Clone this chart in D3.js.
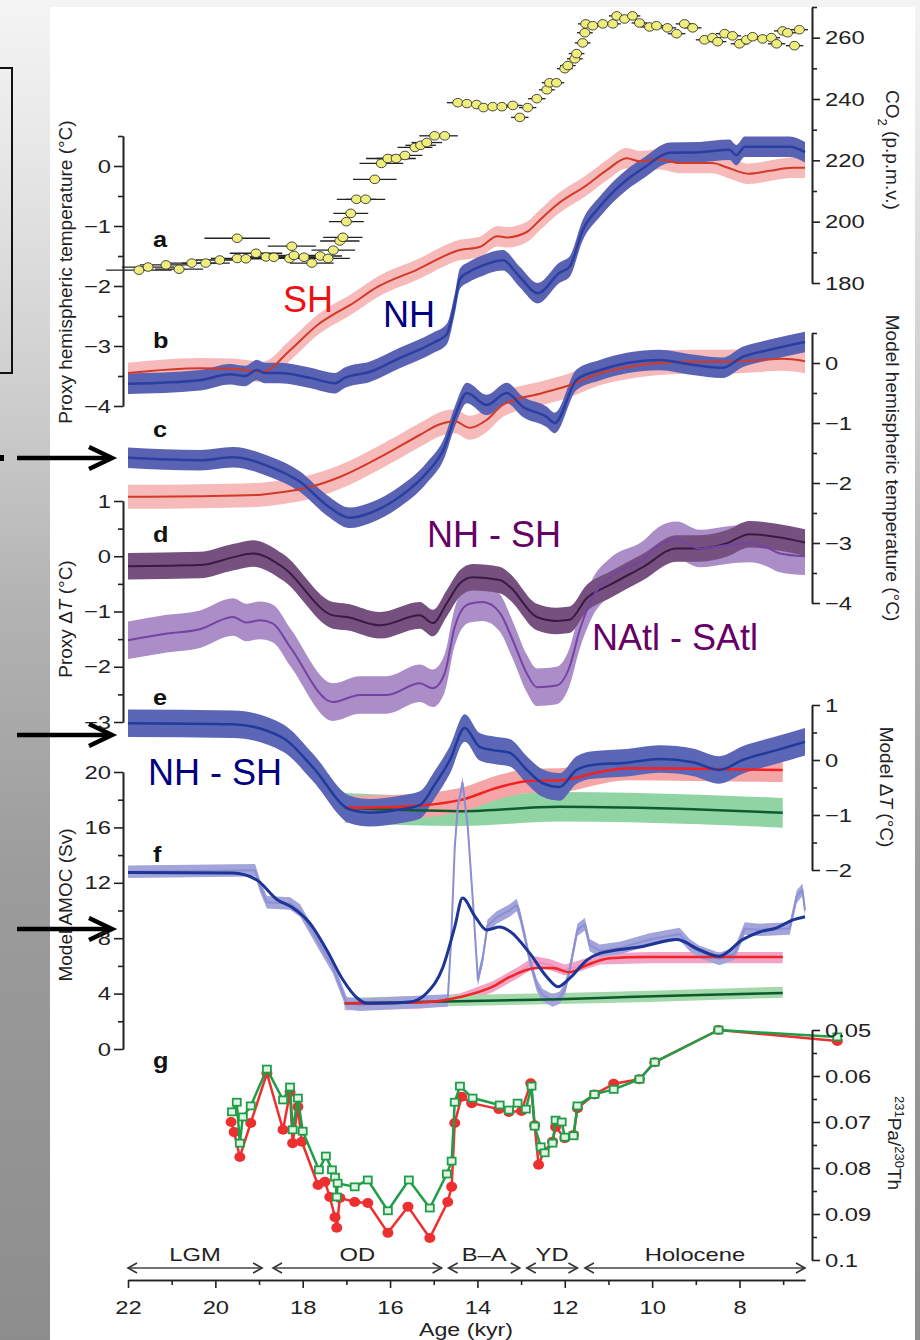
<!DOCTYPE html>
<html>
<head>
<meta charset="utf-8">
<script src="https://cdn.jsdelivr.net/npm/d3@7"></script>
<style>
  body { margin: 0; background: #fff; }
  svg text { font-family: "Liberation Sans", Arial, Helvetica, sans-serif; }
</style>
</head>
<body>
<div id="chart"></div>
<script>
// ---- data (age in kyr BP) ----

// a: CO2 [age, ppmv, age error]
var co2Data = [[21.75,184.2,0.75],[21.54,185.2,0.6],[21.13,185.9,0.6],[20.83,184.5,0.55],[20.54,186.5,0.55],[20.22,186.5,0.55],[19.9,187.5,0.55],[19.5,194.6,0.75],[19.5,188,0.6],[19.3,187.9,0.6],[19.07,189.7,0.6],[18.84,188.5,0.6],[18.66,188.4,0.6],[18.3,188,0.55],[18.25,192,0.55],[18.2,189,0.55],[17.97,188.4,0.5],[17.79,186.5,0.5],[17.6,188.8,0.5],[17.42,188,0.5],[17.3,190.7,0.5],[17.15,193.7,0.45],[17.08,194.9,0.45],[17.0,200,0.4],[16.9,202.7,0.4],[16.77,207.3,0.45],[16.56,207.3,0.45],[16.35,213.8,0.5],[16.2,219,0.5],[16.05,220.6,0.5],[15.86,220.6,0.45],[15.66,221.6,0.4],[15.43,224.2,0.4],[15.3,224.9,0.35],[15.16,225.8,0.35],[14.98,228,0.35],[14.75,228,0.3],[14.45,238.8,0.25],
  [14.24,238.5,0.22],[14.02,238.2,0.22],[13.86,237.2,0.22],[13.65,237.5,0.22],[13.44,237.5,0.22],[13.19,237.9,0.22],[13.03,234,0.2],[12.85,237.2,0.2],[12.64,240.1,0.2],[12.41,243,0.18],[12.35,245.3,0.18],[12.19,245.3,0.18],[12.0,249.9,0.18],[11.93,250.9,0.18],[11.77,253.1,0.18],[11.73,254.8,0.18],[11.59,258.3,0.18],[11.54,261.6,0.18],[11.52,264.5,0.18],[11.36,263.9,0.18],[11.13,264.5,0.18],[10.9,264.5,0.18],[10.81,267.1,0.18],[10.63,266.1,0.18],[10.45,267.1,0.18],[10.29,264.8,0.18],[10.06,263.5,0.2],[9.9,263.9,0.2],[9.65,263.2,0.2],[9.44,261.3,0.2],[9.26,264.5,0.2],[9.07,263.2,0.2],[8.8,259.3,0.2],[8.62,260,0.2],[8.5,258.7,0.2],[8.34,261.3,0.2],[8.16,260.6,0.2],[8.0,258,0.2],[7.84,259.3,0.2],[7.7,260.3,0.2],[7.47,259.6,0.2],[7.27,260,0.2],[7.15,258,0.2],[7.01,262.2,0.2],[6.9,261.6,0.2],[6.74,257.4,0.2],[6.63,262.6,0.2]];

// b: proxy hemispheric temperature (degC)
var bSH = [[22,-3.45],[20.35,-3.37],[19.6,-3.38],[18.91,-3.43],[18.29,-3.07],[17.61,-2.62],[17.31,-2.48],[16.92,-2.32],[16.3,-2.02],[15.39,-1.73],[14.4,-1.4],[13.95,-1.35],[13.54,-1.17],[13.33,-1.19],[12.87,-1.1],[12.57,-0.9],[12.19,-0.65],[11.5,-0.32],[11.04,-0.07],[10.58,0.13],[10.29,0.08],[9.83,0.11],[9.37,0.05],[8.62,0.05],[8.3,-0.02],[7.77,-0.13],[7.31,-0.08],[6.79,-0.03],[6.5,-0.03]];
var bNH = [[22,-3.63],[20.35,-3.57],[19.67,-3.47],[19.32,-3.5],[19.05,-3.4],[18.87,-3.45],[18.52,-3.45],[17.84,-3.53],[17.26,-3.62],[17.04,-3.53],[16.46,-3.43],[15.78,-3.2],[15.02,-2.95],[14.7,-2.8],[14.52,-2.3],[14.4,-1.88],[14.18,-1.76],[13.95,-1.68],[13.42,-1.57],[13.03,-1.85],[12.62,-2.12],[12.12,-1.78],[11.89,-1.68],[11.59,-1.07],[11.2,-0.68],[10.58,-0.23],[10.17,-0.02],[9.6,0.22],[8.91,0.23],[8.23,0.27],[8.07,0.18],[7.88,0.32],[6.85,0.32],[6.5,0.23]];
var bSHerr = 0.17, bNHerr = 0.17;

// c: model hemispheric temperature (degC)
var cSH = [[22,-2.23],[20.35,-2.22],[19.05,-2.2],[18.45,-2.15],[17.9,-2.08],[17.15,-1.9],[16.23,-1.57],[15.32,-1.2],[14.86,-1.02],[14.52,-0.97],[14.18,-1.08],[13.79,-0.95],[13.42,-0.7],[12.51,-0.5],[11.89,-0.37],[11.2,-0.17],[10.58,-0.07],[9.83,0],[9.07,0.02],[8.3,0.02],[7.54,0.05],[7.01,0.07],[6.5,0.03]];
var cNH = [[22,-1.58],[20.35,-1.62],[19.6,-1.57],[18.75,-1.73],[18.06,-1.98],[17.45,-2.37],[16.92,-2.58],[16.46,-2.5],[15.78,-2.23],[15.16,-1.83],[14.75,-1.4],[14.52,-0.9],[14.24,-0.5],[13.79,-0.7],[13.33,-0.5],[12.96,-0.73],[12.41,-0.9],[12.23,-1.0],[11.73,-0.28],[11.2,-0.12],[10.58,0],[9.83,0.05],[9.07,-0.03],[8.39,-0.08],[7.93,0.1],[7.31,0.22],[6.5,0.35]];
var cSHerr = 0.2, cNHerr = 0.17;

// d: proxy NH-SH and NAtl-SAtl (degC)
var dNHSH = [[22,-0.18],[20.35,-0.16],[19.6,-0.02],[19.14,0.05],[18.45,-0.2],[17.31,-1.07],[16.99,-1.1],[16.23,-1.25],[15.32,-1.07],[15.02,-1.21],[14.7,-0.85],[14.4,-0.49],[14.11,-0.38],[13.49,-0.43],[13.26,-0.55],[12.64,-1.1],[12.19,-1.17],[11.89,-1.15],[11.5,-0.76],[10.97,-0.52],[10.22,-0.2],[9.44,0.14],[8.91,0.14],[8.3,0.23],[7.77,0.4],[7.15,0.35],[6.5,0.25]];
var dAtl = [[22,-1.52],[21.11,-1.4],[20.35,-1.32],[19.6,-1.1],[19.28,-1.2],[18.98,-1.16],[18.68,-1.22],[18.29,-1.64],[17.31,-2.64],[16.69,-2.51],[16.07,-2.51],[15.32,-2.3],[15.02,-2.39],[14.75,-2.12],[14.52,-1.28],[14.4,-1.03],[14.18,-0.86],[13.88,-0.83],[13.49,-1.02],[13.19,-1.52],[12.87,-2.12],[12.64,-2.37],[12.19,-2.34],[11.89,-2.0],[11.66,-1.34],[11.36,-0.74],[10.97,-0.38],[10.22,-0.07],[9.83,0.2],[9.44,0.29],[8.91,0.14],[8.3,0.2],[7.77,0.23],[7.38,0.16],[7.08,0.05],[6.5,0]];
var dNHSHerr = 0.24, dAtlErr = 0.34;

// e: model NH-SH (degC), two partial runs
var eNHSH = [[22,0.67],[19.6,0.65],[18.45,0.4],[17.77,-0.13],[16.92,-0.9],[16.46,-0.96],[15.78,-0.9],[15.32,-0.82],[14.98,-0.45],[14.63,0.0],[14.29,0.58],[13.95,0.24],[13.65,0.18],[13.26,0.13],[12.87,-0.18],[12.51,-0.42],[12.12,-0.49],[11.73,-0.18],[11.36,-0.09],[10.58,-0.05],[9.83,0.02],[9.07,-0.04],[8.46,-0.18],[7.93,0],[7.15,0.18],[6.5,0.33]];
var eRed = [[17.04,-0.87],[15.78,-0.85],[14.4,-0.73],[13.49,-0.49],[12.8,-0.38],[12.12,-0.37],[11.2,-0.22],[10.58,-0.15],[9.07,-0.16],[7.01,-0.18]];
var eGreen = [[17.04,-0.87],[14.4,-0.93],[12.12,-0.85],[8.91,-0.9],[7.01,-0.96]];
var eNHSHerr = 0.25, eRedErr = 0.22, eGreenErr = 0.27;

// f: model AMOC (Sv), raw and smoothed
var fBlueRaw = [[22,12.8],[19.09,12.9],[18.98,11.8],[18.82,10.6],[18.29,10.5],[18.06,10.0],[17.68,7.9],[17.31,5.9],[16.99,3.3],[16.69,3.2],[14.68,3.5],[14.6,8.0],[14.52,14.5],[14.45,17.5],[14.34,19.2],[14.22,16.0],[14.1,10.5],[13.99,5.0],[13.88,6.5],[13.77,8.9],[13.56,9.5],[13.26,10.0],[13.1,10.4],[13.03,9.7],[12.92,8.2],[12.8,6.4],[12.64,4.6],[12.51,3.9],[12.28,3.5],[12.12,3.7],[12.0,4.3],[11.89,5.7],[11.71,8.6],[11.54,9.0],[11.43,7.5],[11.2,7.1],[10.74,7.3],[10.06,7.9],[9.37,8.3],[9.14,7.5],[8.91,7.0],[8.46,6.5],[8.11,6.9],[7.88,8.7],[7.54,8.6],[6.85,8.7],[6.69,11.0],[6.56,11.5],[6.5,10.0]];
var fBlueSmooth = [[22,12.75],[19.6,12.7],[19.05,12.2],[18.59,10.8],[18.23,10.2],[17.84,9.1],[17.45,7.15],[17.08,5.0],[16.76,3.7],[16.53,3.3],[16.23,3.3],[15.55,3.4],[15.16,4.05],[14.79,5.9],[14.52,8.8],[14.34,10.9],[14.06,9.6],[13.79,8.6],[13.49,8.8],[13.26,8.5],[12.8,6.9],[12.41,5.2],[12.16,4.5],[11.89,5.1],[11.5,6.4],[11.2,6.9],[10.22,7.4],[9.44,7.9],[8.91,7.15],[8.46,6.7],[7.93,7.9],[7.54,8.45],[7.15,8.75],[6.79,9.3],[6.5,9.55]];
var fRedRaw = [[17.04,3.2],[15.32,3.3],[14.4,3.6],[13.65,4.5],[13.03,5.6],[12.69,6.3],[12.35,6.1],[12.0,5.7],[11.66,6.0],[11.2,6.5],[10.06,6.6],[7.01,6.6]];
var fRedSmooth = [[17.04,3.3],[15.32,3.35],[14.4,3.75],[13.65,4.5],[13.26,5.2],[12.64,5.85],[12.28,5.85],[11.89,5.55],[11.5,6.05],[10.97,6.55],[10.22,6.65],[7.01,6.65]];
var fGreenRaw = [[17.04,3.3],[14.4,3.5],[12.12,3.65],[10.06,3.8],[7.01,4.1]];
var fGreenSmooth = [[17.04,3.3],[14.4,3.45],[12.12,3.6],[10.58,3.75],[8.91,3.9],[7.01,4.05]];
var blueNoise = 0.45, redNoise = 0.4, greenNoise = 0.4;

// g: 231Pa/230Th
var gRed = [[19.64,0.070],[19.57,0.0722],[19.44,0.0776],[19.19,0.0702],[18.82,0.0594],[18.45,0.0717],[18.29,0.0635],[18.23,0.0746],[18.11,0.0667],[18.02,0.0743],[17.65,0.0837],[17.49,0.083],[17.38,0.0863],[17.26,0.0907],[17.22,0.093],[17.15,0.0865],[16.81,0.0874],[16.51,0.0876],[16.05,0.0941],[15.59,0.0884],[15.09,0.0952],[14.68,0.0874],[14.59,0.0841],[14.52,0.0702],[14.36,0.0645],[14.13,0.0659],[13.51,0.0672],[13.28,0.0678],[12.99,0.0676],[12.78,0.0616],[12.69,0.0707],[12.6,0.0793],[12.48,0.0765],[12.28,0.0743],[12.21,0.0711],[12.0,0.0735],[11.8,0.0728],[11.71,0.067],[11.32,0.064],[10.88,0.0617],[10.29,0.0607],[9.94,0.057],[8.48,0.050],[5.76,0.0524]];
var gGreen = [[19.62,0.0678],[19.51,0.0657],[19.44,0.0746],[19.37,0.0689],[19.19,0.0665],[18.82,0.0585],[18.45,0.0652],[18.29,0.0624],[18.23,0.0717],[18.11,0.0648],[18.0,0.072],[17.63,0.0804],[17.47,0.0774],[17.33,0.0804],[17.26,0.082],[17.22,0.0863],[17.2,0.0833],[16.81,0.0841],[16.51,0.0826],[16.05,0.0893],[15.57,0.0826],[15.09,0.0887],[14.7,0.0813],[14.59,0.0785],[14.52,0.0657],[14.4,0.0622],[14.11,0.0648],[13.49,0.0663],[13.28,0.0674],[13.08,0.0659],[12.89,0.0672],[12.76,0.0622],[12.69,0.0709],[12.55,0.0754],[12.46,0.0767],[12.28,0.0746],[12.21,0.0696],[12.07,0.07],[12.0,0.0733],[11.8,0.073],[11.71,0.0665],[11.32,0.064],[10.88,0.0629],[10.29,0.0607],[9.94,0.057],[8.48,0.050],[5.76,0.0515]];

// periods [label, from, to]
var periods = [["LGM",22,18.93],["OD",18.68,14.82],["B\u2013A",14.66,13.03],["YD",12.87,11.71],["Holocene",11.54,6.5]];

// tick values
var ageMajor = [22,20,18,16,14,12,10,8], ageMinor = [21,19,17,15,13,11,9,7];
var co2Major = [180,200,220,240,260], co2Minor = [190,210,230,250,270];
var tMajor = [-4,-3,-2,-1,0], tMinor = [-3.5,-2.5,-1.5,-0.5,0.5];
var pdMajor = [-3,-2,-1,0,1], pdMinor = [-2.5,-1.5,-0.5,0.5];
var mdMajor = [-2,-1,0,1], mdMinor = [-1.5,-0.5,0.5];
var amMajor = [0,4,8,12,16,20], amMinor = [2,6,10,14,18];
var paMajor = [0.05,0.06,0.07,0.08,0.09,0.1], paMinor = [0.055,0.065,0.075,0.085,0.095];

// ---- drawing ----
var W = 920, H = 1340;
var svg = d3.select("#chart").append("svg").attr("width", W).attr("height", H);

// slide background
var grad = svg.append("defs").append("linearGradient").attr("id", "bg")
  .attr("x1", 0).attr("y1", 0).attr("x2", 0).attr("y2", 1);
[[0,"#f4f4f4"],[0.1,"#e9e9e9"],[0.3,"#cdcdcd"],[0.45,"#b3b3b3"],[0.65,"#9c9c9c"],[1,"#8d8d8d"]]
  .forEach(function(s) { grad.append("stop").attr("offset", s[0]).attr("stop-color", s[1]); });
svg.append("rect").attr("width", W).attr("height", H).attr("fill", "url(#bg)");
svg.append("rect").attr("x", 50).attr("y", 7).attr("width", 865).attr("height", H - 7).attr("fill", "#fff");

// left slide remnants: box, dot, arrows
svg.append("rect").attr("x", -6).attr("y", 68).attr("width", 18).attr("height", 305)
  .attr("fill", "none").attr("stroke", "#111").attr("stroke-width", 2);
svg.append("rect").attr("x", 0).attr("y", 455).attr("width", 4).attr("height", 6).attr("fill", "#000");
[458, 735, 929].forEach(function(yy) {
  svg.append("path").attr("d", "M17," + yy + "H110").attr("stroke", "#000").attr("stroke-width", 4.5);
  svg.append("path").attr("d", "M89," + (yy - 11) + "L112," + yy + "L89," + (yy + 11))
    .attr("stroke", "#000").attr("stroke-width", 4.5).attr("fill", "none");
});

var x = d3.scaleLinear().domain([22, 6.5]).range([128, 805]);
var yCO2 = d3.scaleLinear().domain([180, 270]).range([283, 7]);
var yPT = d3.scaleLinear().domain([-4, 0.5]).range([406, 136]);
var yMH = d3.scaleLinear().domain([-4, 0.5]).range([603, 333]);
var yPD = d3.scaleLinear().domain([-3, 1]).range([722, 501]);
var yMD = d3.scaleLinear().domain([-2, 1]).range([870, 705]);
var yAM = d3.scaleLinear().domain([0, 20]).range([1049, 772]);
var yPa = d3.scaleLinear().domain([0.05, 0.1]).range([1030, 1260]);

var plot = svg.append("g");

function band(data, yS, half, fill, curve) {
  plot.append("path").datum(data)
    .attr("d", d3.area().x(d => x(d[0])).y0(d => yS(d[1] - half)).y1(d => yS(d[1] + half))
      .curve(curve || d3.curveMonotoneX))
    .attr("fill", fill);
}
function line(data, yS, stroke, w, curve) {
  plot.append("path").datum(data)
    .attr("d", d3.line().x(d => x(d[0])).y(d => yS(d[1])).curve(curve || d3.curveMonotoneX))
    .attr("fill", "none").attr("stroke", stroke).attr("stroke-width", w)
    .attr("stroke-linejoin", "round");
}

// a: CO2 with age error bars
plot.selectAll("line.err").data(co2Data).enter().append("line")
  .attr("x1", d => x(d[0] + d[2])).attr("x2", d => x(d[0] - d[2]))
  .attr("y1", d => yCO2(d[1])).attr("y2", d => yCO2(d[1]))
  .attr("stroke", "#222").attr("stroke-width", 1.3);
plot.selectAll("ellipse.co2").data(co2Data).enter().append("ellipse")
  .attr("cx", d => x(d[0])).attr("cy", d => yCO2(d[1]))
  .attr("rx", 5).attr("ry", 4.3)
  .attr("fill", "#efed7c").attr("stroke", "#333").attr("stroke-width", 0.9);

// b
band(bSH, yPT, bSHerr, "#f6baba");
band(bNH, yPT, bNHerr, "#5a62b4");
line(bSH, yPT, "#d23a26", 2);
line(bNH, yPT, "#2a3f9f", 2.5);

// c
band(cSH, yMH, cSHerr, "#f6baba");
band(cNH, yMH, cNHerr, "#5a62b4");
line(cSH, yMH, "#d23a26", 2);
line(cNH, yMH, "#2a3f9f", 2.5);

// d
band(dAtl, yPD, dAtlErr, "#ab8dc7");
band(dNHSH, yPD, dNHSHerr, "#765180");
line(dNHSH, yPD, "#3a1a42", 2);
line(dAtl, yPD, "#7443a4", 2);

// e
band(eGreen, yMD, eGreenErr, "#91d4a4");
band(eRed, yMD, eRedErr, "#f5a5a5");
band(eNHSH, yMD, eNHSHerr, "#5b66b7");
line(eGreen, yMD, "#0d5c30", 2.5);
line(eRed, yMD, "#f52020", 2.5);
line(eNHSH, yMD, "#1f3c9c", 2.5);

// f
band(fRedRaw, yAM, redNoise, "#f3a3c6", d3.curveLinear);
line(fRedRaw, yAM, "#f08cb8", 1.5, d3.curveLinear);
band(fGreenRaw, yAM, greenNoise, "#a3d9ab", d3.curveLinear);
line(fGreenRaw, yAM, "#8fd09a", 1.5, d3.curveLinear);
band(fBlueRaw, yAM, blueNoise, "#a3a4da", d3.curveLinear);
line(fBlueRaw, yAM, "#8c8fd3", 2, d3.curveLinear);
line(fGreenSmooth, yAM, "#0c5a2c", 2.5);
line(fRedSmooth, yAM, "#f02525", 2.5);
line(fBlueSmooth, yAM, "#1c3596", 3);

// g
line(gRed, yPa, "#ee2f2f", 2.5, d3.curveLinear);
plot.selectAll("ellipse.pr").data(gRed).enter().append("ellipse")
  .attr("cx", d => x(d[0])).attr("cy", d => yPa(d[1]))
  .attr("rx", 5.5).attr("ry", 5).attr("fill", "#ee2f2f");
line(gGreen, yPa, "#1f9e48", 2.5, d3.curveLinear);
plot.selectAll("rect.pg").data(gGreen).enter().append("rect")
  .attr("x", d => x(d[0]) - 4).attr("y", d => yPa(d[1]) - 3.5)
  .attr("width", 8).attr("height", 7)
  .attr("fill", "#e2f4e5").attr("stroke", "#1f9e48").attr("stroke-width", 1.8);

// ---- axes ----
function styleAxis(g) {
  g.select(".domain").attr("stroke", "#222").attr("stroke-width", 1.6);
  g.selectAll(".tick line").attr("stroke", "#222").attr("stroke-width", 1.6);
  g.selectAll(".tick text")
    .attr("font-size", 19).attr("fill", "#222")
    .attr("font-family", "'Liberation Sans', Arial, Helvetica, sans-serif")
    .each(function() {
      var t = d3.select(this);
      var xv = +t.attr("x") || 0;
      t.attr("x", xv / 1.25).attr("transform", "scale(1.25,1)");
    });
}
function vAxis(side, xpos, yS, major, minor) {
  var mk = side === "left" ? d3.axisLeft : d3.axisRight;
  var g1 = svg.append("g").attr("transform", "translate(" + xpos + ",0)")
    .call(mk(yS).tickValues(minor).tickSize(5).tickFormat("").tickSizeOuter(0));
  styleAxis(g1);
  var g2 = svg.append("g").attr("transform", "translate(" + xpos + ",0)")
    .call(mk(yS).tickValues(major).tickSize(side === "left" ? 9 : 8)
      .tickPadding(side === "left" ? 3 : 5).tickSizeOuter(0).tickFormat(d3.format("")));
  styleAxis(g2);
}
vAxis("right", 812, yCO2, co2Major, co2Minor);
vAxis("left", 123, yPT, tMajor, tMinor);
vAxis("right", 812, yMH, tMajor, tMinor);
vAxis("left", 123, yPD, pdMajor, pdMinor);
vAxis("right", 812, yMD, mdMajor, mdMinor);
vAxis("left", 123, yAM, amMajor, amMinor);
vAxis("right", 812, yPa, paMajor, paMinor);

var gx1 = svg.append("g").attr("transform", "translate(0,1280)")
  .call(d3.axisBottom(x).tickValues(ageMinor).tickSize(5).tickFormat("").tickSizeOuter(0));
styleAxis(gx1);
var gx2 = svg.append("g").attr("transform", "translate(0,1280)")
  .call(d3.axisBottom(x).tickValues(ageMajor).tickSize(8).tickPadding(13).tickSizeOuter(0).tickFormat(d3.format("")));
styleAxis(gx2);

svg.append("text").attr("x", 466).attr("y", 1336).attr("text-anchor", "middle")
  .attr("font-size", 19).attr("fill", "#222")
  .attr("transform", "translate(466,0) scale(1.22,1) translate(-466,0)")
  .text("Age (kyr)");

// period arrows
var per = svg.append("g");
periods.forEach(function(p) {
  var x0 = x(p[1]), x1 = x(p[2]), yy = 1268;
  per.append("path").attr("d", "M" + x0 + "," + yy + "H" + x1)
    .attr("stroke", "#444").attr("stroke-width", 1.3);
  per.append("path")
    .attr("d", "M" + (x0 + 9) + "," + (yy - 5) + "L" + x0 + "," + yy + "L" + (x0 + 9) + "," + (yy + 5) +
      "M" + (x1 - 9) + "," + (yy - 5) + "L" + x1 + "," + yy + "L" + (x1 - 9) + "," + (yy + 5))
    .attr("stroke", "#333").attr("stroke-width", 1.6).attr("fill", "none");
  var cx = (x0 + x1) / 2;
  per.append("text").attr("x", cx / 1.25).attr("y", 1261).attr("text-anchor", "middle")
    .attr("transform", "scale(1.25,1)")
    .attr("font-size", 19).attr("fill", "#222").text(p[0]);
});

// axis titles
function vTitle(tx, ty, ang, build) {
  var t = svg.append("text").attr("transform", "translate(" + tx + "," + ty + ") rotate(" + ang + ")")
    .attr("text-anchor", "middle").attr("font-size", 19).attr("fill", "#222");
  build(t);
}
vTitle(72, 272, -90, t => t.text("Proxy hemispheric temperature (°C)"));
vTitle(72, 619, -90, t => {
  t.append("tspan").text("Proxy \u0394");
  t.append("tspan").attr("font-style", "italic").text("T");
  t.append("tspan").text(" (°C)");
});
vTitle(72, 905, -90, t => t.text("Model AMOC (Sv)"));
vTitle(886, 150, 90, t => {
  t.append("tspan").text("CO");
  t.append("tspan").attr("font-size", 13).attr("baseline-shift", "sub").text("2");
  t.append("tspan").text(" (p.p.m.v.)");
});
vTitle(886, 468, 90, t => t.text("Model hemispheric temperature (°C)"));
vTitle(880, 787, 90, t => {
  t.append("tspan").text("Model \u0394");
  t.append("tspan").attr("font-style", "italic").text("T");
  t.append("tspan").text(" (°C)");
});
vTitle(888, 1143, 90, t => {
  t.append("tspan").attr("font-size", 13).attr("baseline-shift", "super").text("231");
  t.append("tspan").text("Pa/");
  t.append("tspan").attr("font-size", 13).attr("baseline-shift", "super").text("230");
  t.append("tspan").text("Th");
});

// panel letters
[["a",247],["b",348],["c",437],["d",542],["e",705],["f",862],["g",1068]].forEach(function(l) {
  svg.append("text").attr("x", 153 / 1.15).attr("y", l[1]).attr("transform", "scale(1.15,1)")
    .attr("font-size", 22).attr("font-weight", "bold").attr("fill", "#111").text(l[0]);
});

// slide annotations
var notes = [["SH", 283, 312, "#ee1111"], ["NH", 383, 327, "#000080"], ["NH - SH", 427, 547, "#660066"],
             ["NAtl - SAtl", 592, 650, "#660066"], ["NH - SH", 148, 785, "#000080"]];
notes.forEach(function(n) {
  svg.append("text").attr("x", n[1]).attr("y", n[2]).attr("font-size", 36)
    .attr("fill", n[3]).text(n[0]);
});
</script>
</body>
</html>
